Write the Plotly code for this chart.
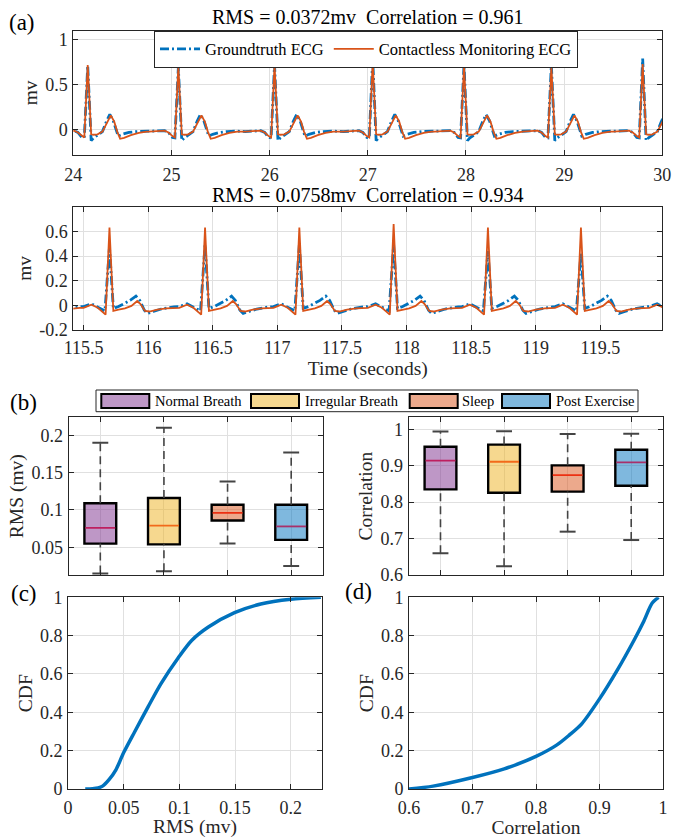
import plotly.graph_objects as go

# ---------------- data ----------------
# (a) upper trace: 24 - 30 s
A1_BEAT_TIMES = [24.147, 25.07, 26.05, 27.05, 27.98, 28.87, 29.80]
A1_GT_R_PEAKS = [0.71, 0.69, 0.72, 0.79, 0.72, 0.72, 0.79]
A1_CM_R_PEAKS = [0.72, 0.70, 0.72, 0.75, 0.70, 0.69, 0.73]
A1_GT_OFFSETS = [-0.30, -0.14, -0.10, -0.06, -0.035, 0.0, 0.035, 0.06, 0.10, 0.15, 0.19, 0.225, 0.26, 0.29, 0.31, 0.35, 0.42, 0.50, 0.60]
A1_GT_VALUES = [-0.02, -0.01, -0.03, -0.085, -0.09, None, -0.12, -0.09, -0.06, -0.02, 0.09, 0.17, 0.10, -0.02, -0.07, -0.05, -0.03, -0.02, -0.015]
A1_CM_OFFSETS = [-0.30, -0.14, -0.10, -0.06, -0.035, 0.0, 0.035, 0.06, 0.10, 0.15, 0.20, 0.235, 0.27, 0.30, 0.33, 0.37, 0.44, 0.52, 0.60]
A1_CM_VALUES = [-0.02, -0.01, -0.03, -0.07, -0.085, None, -0.05, -0.055, -0.05, -0.02, 0.08, 0.16, 0.09, -0.02, -0.10, -0.09, -0.06, -0.035, -0.02]

# (a) lower trace: 115.4 - 120 s
A2_BEAT_TIMES = [114.97, 115.70, 116.44, 117.17, 117.90, 118.63, 119.35, 120.08]
A2_GT_R_PEAKS = [0.46, 0.47, 0.49, 0.49, 0.49, 0.44, 0.42, 0.45]
A2_CM_R_PEAKS = [0.63, 0.63, 0.63, 0.63, 0.66, 0.63, 0.63, 0.63]
A2_GT_OFFSETS = [-0.20, -0.14, -0.09, -0.035, 0.0, 0.03, 0.07, 0.12, 0.16, 0.205, 0.235, 0.27, 0.295, 0.34, 0.40, 0.50]
A2_GT_VALUES = [-0.01, 0.012, -0.015, -0.045, None, -0.025, -0.01, 0.015, 0.04, 0.075, 0.04, -0.04, -0.065, -0.05, -0.03, -0.012]
A2_CM_OFFSETS = [-0.20, -0.14, -0.09, -0.03, 0.0, 0.03, 0.07, 0.12, 0.17, 0.215, 0.24, 0.275, 0.31, 0.37, 0.44, 0.50]
A2_CM_VALUES = [-0.02, 0.005, -0.02, -0.075, None, -0.045, -0.035, -0.025, -0.005, 0.035, 0.01, -0.045, -0.05, -0.035, -0.025, -0.02]

A1_TITLE = "RMS = 0.0372mv\u00a0\u00a0Correlation = 0.961"
A2_TITLE = "RMS = 0.0758mv\u00a0\u00a0Correlation = 0.934"

# (b) box plots
CATEGORIES = ["Normal Breath", "Irregular Breath", "Sleep", "Post Exercise"]
RMS_LOW = [0.015, 0.018, 0.055, 0.025]
RMS_Q1 = [0.055, 0.054, 0.086, 0.060]
RMS_MED = [0.076, 0.079, 0.096, 0.078]
RMS_Q3 = [0.109, 0.116, 0.107, 0.107]
RMS_HIGH = [0.190, 0.210, 0.138, 0.177]
CORR_LOW = [0.660, 0.624, 0.719, 0.696]
CORR_Q1 = [0.835, 0.826, 0.829, 0.845]
CORR_MED = [0.914, 0.911, 0.874, 0.909]
CORR_Q3 = [0.952, 0.958, 0.901, 0.944]
CORR_HIGH = [0.994, 0.995, 0.987, 0.988]

# (c) CDF of RMS, (d) CDF of correlation
RMS_CDF_X = [0.0155, 0.022, 0.027, 0.031, 0.037, 0.043, 0.05, 0.06, 0.072, 0.0835, 0.099, 0.111, 0.126, 0.1495, 0.173, 0.20, 0.227]
RMS_CDF_Y = [0.0, 0.002, 0.006, 0.015, 0.05, 0.10, 0.19, 0.30, 0.43, 0.55, 0.685, 0.775, 0.845, 0.92, 0.965, 0.99, 1.0]
CORR_CDF_X = [0.60, 0.638, 0.70, 0.75, 0.80, 0.833, 0.852, 0.872, 0.90, 0.928, 0.955, 0.969, 0.983, 0.993]
CORR_CDF_Y = [0.0, 0.015, 0.06, 0.105, 0.17, 0.23, 0.28, 0.34, 0.47, 0.62, 0.78, 0.87, 0.97, 1.0]

# ---------------- styles ----------------
W, H = 681, 838
FONT = "Liberation Serif, Times New Roman, serif"
DARK = "#262626"
GRID = "#e0e0e0"
BLUE = "#0072BD"
ORANGE = "#D95319"
BOX_FILL = ["rgba(126,47,142,0.5)", "rgba(237,177,32,0.5)", "rgba(217,83,25,0.5)", "rgba(0,114,189,0.5)"]
MEDIAN_COL = ["#BE1F5F", "#F26A1A", "#EC3012", "#A8306A"]
TICK_SIZE = 18
LABEL_SIZE = 19.5
TITLE_SIZE = 20


def xd(l, r):
    return [l / W, r / W]


def yd(t, b):
    return [1 - b / H, 1 - t / H]


def build_signal(beats, peaks, offsets, values):
    ts, vs = [], []
    for bt, pk in zip(beats, peaks):
        for o, v in zip(offsets, values):
            ts.append(bt + o)
            vs.append(pk if v is None else v)
    return ts, vs


fig = go.Figure()

# ---- (a) ECG traces ----
gt1 = build_signal(A1_BEAT_TIMES, A1_GT_R_PEAKS, A1_GT_OFFSETS, A1_GT_VALUES)
cm1 = build_signal(A1_BEAT_TIMES, A1_CM_R_PEAKS, A1_CM_OFFSETS, A1_CM_VALUES)
gt2 = build_signal(A2_BEAT_TIMES, A2_GT_R_PEAKS, A2_GT_OFFSETS, A2_GT_VALUES)
cm2 = build_signal(A2_BEAT_TIMES, A2_CM_R_PEAKS, A2_CM_OFFSETS, A2_CM_VALUES)

gt_line = dict(color=BLUE, width=2.8, dash="9px,3px,2px,3px")
cm_line = dict(color=ORANGE, width=1.8)

fig.add_trace(go.Scatter(x=gt1[0], y=gt1[1], mode="lines", line=gt_line,
                         name="Groundtruth ECG", xaxis="x", yaxis="y"))
fig.add_trace(go.Scatter(x=cm1[0], y=cm1[1], mode="lines", line=cm_line,
                         name="Contactless Monitoring ECG", xaxis="x", yaxis="y"))
fig.add_trace(go.Scatter(x=gt2[0], y=gt2[1], mode="lines", line=gt_line,
                         showlegend=False, xaxis="x2", yaxis="y2"))
fig.add_trace(go.Scatter(x=cm2[0], y=cm2[1], mode="lines", line=cm_line,
                         showlegend=False, xaxis="x2", yaxis="y2"))


# ---- (b) box plots ----
def add_boxes(low, q1, med, q3, high, xa, ya):
    pos = list(range(1, len(CATEGORIES) + 1))
    for i, p in enumerate(pos):
        fig.add_trace(go.Bar(x=[p], y=[q3[i] - q1[i]], base=[q1[i]], width=0.5,
                             marker=dict(color=BOX_FILL[i], line=dict(color="black", width=2.4)),
                             showlegend=False, xaxis=xa, yaxis=ya, hoverinfo="skip"))
    wx, wy, cx, cy = [], [], [], []
    for i, p in enumerate(pos):
        wx += [p, p, None, p, p, None]
        wy += [q3[i], high[i], None, low[i], q1[i], None]
        cx += [p - 0.125, p + 0.125, None, p - 0.125, p + 0.125, None]
        cy += [high[i], high[i], None, low[i], low[i], None]
    fig.add_trace(go.Scatter(x=wx, y=wy, mode="lines", line=dict(color="#444444", width=1.6, dash="8px,5px"),
                             showlegend=False, xaxis=xa, yaxis=ya))
    fig.add_trace(go.Scatter(x=cx, y=cy, mode="lines", line=dict(color="#444444", width=2),
                             showlegend=False, xaxis=xa, yaxis=ya))
    for i, p in enumerate(pos):
        fig.add_trace(go.Scatter(x=[p - 0.235, p + 0.235], y=[med[i], med[i]], mode="lines",
                                 line=dict(color=MEDIAN_COL[i], width=1.8),
                                 showlegend=False, xaxis=xa, yaxis=ya))


add_boxes(RMS_LOW, RMS_Q1, RMS_MED, RMS_Q3, RMS_HIGH, "x3", "y3")
add_boxes(CORR_LOW, CORR_Q1, CORR_MED, CORR_Q3, CORR_HIGH, "x4", "y4")

# ---- (c), (d) CDFs ----
fig.add_trace(go.Scatter(x=RMS_CDF_X, y=RMS_CDF_Y, mode="lines",
                         line=dict(color=BLUE, width=3.5, shape="spline", smoothing=0.8),
                         showlegend=False, xaxis="x5", yaxis="y5"))
fig.add_trace(go.Scatter(x=CORR_CDF_X, y=CORR_CDF_Y, mode="lines",
                         line=dict(color=BLUE, width=3.5, shape="spline", smoothing=0.8),
                         showlegend=False, xaxis="x6", yaxis="y6"))

TICKFONT = dict(size=TICK_SIZE, color=DARK, family=FONT)
TITLEFONT = dict(size=LABEL_SIZE, color=DARK, family=FONT)


def ax(title=None, title_standoff=0, **kw):
    d = dict(showline=True, linecolor=DARK, linewidth=1, mirror="ticks", ticks="inside",
             ticklen=5, tickcolor=DARK, showgrid=True, gridcolor=GRID, gridwidth=1,
             zeroline=False, automargin=False, tickfont=TICKFONT)
    if title:
        d["title"] = dict(text=title, standoff=title_standoff, font=TITLEFONT)
    d.update(kw)
    return d


XT_STANDOFF = 3
YT_STANDOFF = 1
YTITLE_STANDOFF = 2

layout_axes = dict(
    xaxis=ax(domain=xd(73.3, 662.3), anchor="y", range=[24, 30], tickvals=[24, 25, 26, 27, 28, 29, 30],
             ticklabelstandoff=XT_STANDOFF),
    yaxis=ax("mv", YTITLE_STANDOFF, domain=yd(30.7, 155), anchor="x", range=[-0.28, 1.1], tickvals=[0, 0.5, 1],
             ticklabelstandoff=YT_STANDOFF),
    xaxis2=ax("Time (seconds)", 0, domain=xd(73.3, 662.3), anchor="y2", range=[115.42, 119.98],
              tickvals=[115.5, 116, 116.5, 117, 117.5, 118, 118.5, 119, 119.5],
              ticktext=["115.5", "116", "116.5", "117", "117.5", "118", "118.5", "119", "119.5"],
              ticklabelstandoff=1),
    yaxis2=ax("mv", YTITLE_STANDOFF, domain=yd(206.7, 330), anchor="x2", range=[-0.2, 0.8],
              tickvals=[-0.2, 0, 0.2, 0.4, 0.6], ticktext=["-0.2", "0", "0.2", "0.4", "0.6"],
              ticklabelstandoff=YT_STANDOFF),
    xaxis3=ax(domain=xd(68.5, 323), anchor="y3", range=[0.5, 4.5], tickvals=[1, 2, 3, 4],
              showticklabels=False),
    yaxis3=ax("RMS (mv)", YTITLE_STANDOFF, domain=yd(417.3, 575), anchor="x3", range=[0.013, 0.224],
              tickvals=[0.05, 0.1, 0.15, 0.2], ticktext=["0.05", "0.1", "0.15", "0.2"],
              ticklabelstandoff=YT_STANDOFF),
    xaxis4=ax(domain=xd(408.7, 663), anchor="y4", range=[0.5, 4.5], tickvals=[1, 2, 3, 4],
              showticklabels=False),
    yaxis4=ax("Correlation", YTITLE_STANDOFF, domain=yd(417.3, 575), anchor="x4", range=[0.6, 1.033],
              tickvals=[0.6, 0.7, 0.8, 0.9, 1], ticktext=["0.6", "0.7", "0.8", "0.9", "1"],
              ticklabelstandoff=YT_STANDOFF),
    xaxis5=ax("RMS (mv)", 0, domain=xd(68, 322), anchor="y5", range=[0, 0.228],
              tickvals=[0, 0.05, 0.1, 0.15, 0.2], ticktext=["0", "0.05", "0.1", "0.15", "0.2"],
              ticklabelstandoff=2),
    yaxis5=ax("CDF", YTITLE_STANDOFF, domain=yd(597.3, 789), anchor="x5", range=[0, 1],
              tickvals=[0, 0.2, 0.4, 0.6, 0.8, 1], ticktext=["0", "0.2", "0.4", "0.6", "0.8", "1"],
              ticklabelstandoff=YT_STANDOFF),
    xaxis6=ax("Correlation", 0, domain=xd(409, 663), anchor="y6", range=[0.6, 1],
              tickvals=[0.6, 0.7, 0.8, 0.9, 1], ticktext=["0.6", "0.7", "0.8", "0.9", "1"],
              ticklabelstandoff=2),
    yaxis6=ax("CDF", YTITLE_STANDOFF, domain=yd(597.3, 789), anchor="x6", range=[0, 1],
              tickvals=[0, 0.2, 0.4, 0.6, 0.8, 1], ticktext=["0", "0.2", "0.4", "0.6", "0.8", "1"],
              ticklabelstandoff=YT_STANDOFF),
)

annotations = []


def txt(x, y, text, size, xanchor="center", color="black"):
    annotations.append(dict(x=x / W, y=1 - y / H, xref="paper", yref="paper", text=text,
                            showarrow=False, xanchor=xanchor, yanchor="middle",
                            font=dict(size=size, family=FONT, color=color)))


txt(367.8, 17, A1_TITLE, TITLE_SIZE)
txt(367.8, 195, A2_TITLE, TITLE_SIZE)
txt(22, 23, "(a)", 23)
txt(23, 402.5, "(b)", 23)
txt(24, 593, "(c)", 23)
txt(358, 591.5, "(d)", 23)

# legend for (b), drawn as patches + text
shapes = [dict(type="rect", xref="paper", yref="paper", x0=96 / W, x1=638 / W,
               y0=1 - 411.7 / H, y1=1 - 390 / H, line=dict(color=DARK, width=1),
               fillcolor="white", layer="above")]
patch_x = [101.3, 251, 409.7, 502]
text_x = [153.3, 303, 459.5, 554]
for i, name in enumerate(CATEGORIES):
    shapes.append(dict(type="rect", xref="paper", yref="paper", x0=patch_x[i] / W,
                       x1=(patch_x[i] + 48) / W, y0=1 - 408 / H, y1=1 - 394 / H,
                       line=dict(color="black", width=2), fillcolor=BOX_FILL[i], layer="above"))
    txt(text_x[i], 401, name, 14.5, xanchor="left", color="black")

fig.update_layout(
    width=W, height=H, margin=dict(l=0, r=0, t=0, b=0, autoexpand=False),
    paper_bgcolor="white", plot_bgcolor="white",
    font=dict(family=FONT, color=DARK, size=TICK_SIZE),
    showlegend=True, bargap=0, hovermode=False,
    legend=dict(orientation="h", x=366 / W, xanchor="center", y=1 - 30.7 / H, yanchor="top",
                bordercolor=DARK, borderwidth=1, bgcolor="white",
                font=dict(size=16.5, family=FONT, color="black"), itemwidth=40,
                tracegroupgap=0),
    annotations=annotations, shapes=shapes,
    **layout_axes,
)

fig.write_html("out.html", config={"displayModeBar": False, "staticPlot": True},
               post_script="document.body.style.margin='0px';document.body.style.overflow='hidden';")
